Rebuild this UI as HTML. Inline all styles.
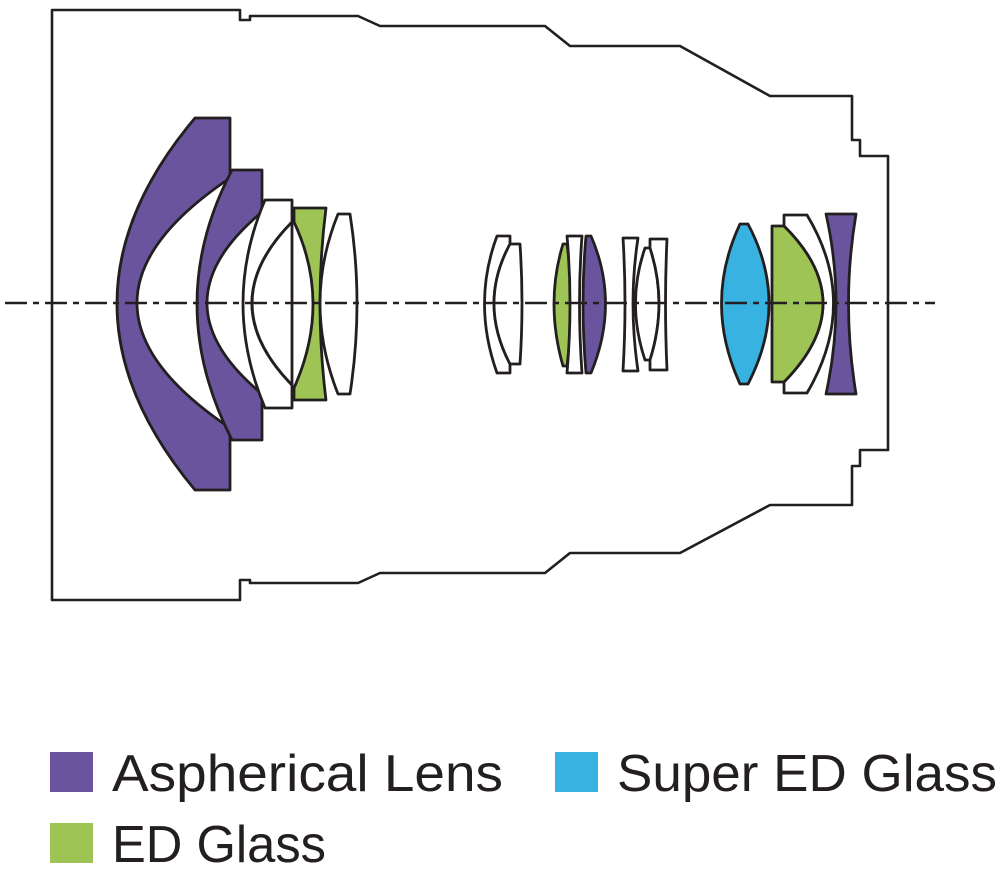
<!DOCTYPE html>
<html><head><meta charset="utf-8"><style>
html,body{margin:0;padding:0;background:#fff;}
svg{display:block;}
text{font-family:"Liberation Sans",sans-serif;fill:#231f20;}
</style></head><body>
<svg width="1000" height="872" viewBox="0 0 1000 872" xmlns="http://www.w3.org/2000/svg">
<g fill="none" stroke="#231f20" stroke-width="2.6" stroke-linejoin="round">
<path d="M52,10 H240 V20 H250 V16 H358 L380,26 H545 L570,46 H680 L770,96 H852 V140 H860 V156 H888 V450 H860 V466 H852 V505 H770 L680,553 H570 L545,573 H380 L358,583 H250 V580 H240 V600 H52 Z"/>
</g>
<g stroke="#231f20" stroke-width="2.8" stroke-linejoin="round">
<path fill="#6a549e" d="M195,118 H230 V178 Q44,303 230,428 V490 H195 Q39,303 195,118 Z"/>
<path fill="#6a549e" d="M232,170 H262 V212 Q152,303 262,394 V440 H232 Q162,303 232,170 Z"/>
<path fill="#fff" d="M265,200 H292 V222 Q212,303 292,385 V408 H265 Q221,303 265,200 Z"/>
<path fill="#fff" d="M292,222 Q212,303 292,385 Z"/>
<path fill="#9dc455" d="M294,208 H326 Q314,303 326,400 H294 V388 Q332,303 294,222 Z"/>
<path fill="#fff" d="M338,214 H350 Q364,303 350,394 H338 Q302,303 338,214 Z"/>
<path fill="#fff" d="M497,236 H510 V244 Q478,303 510,364 V373 H497 Q472,303 497,236 Z"/>
<path fill="#fff" d="M510,244 H520 Q524,303 520,364 H510 Q478,303 510,244 Z"/>
<path fill="#9dc455" d="M563,244 H567 Q575,303 567,366 H563 Q545,303 563,244 Z"/>
<path fill="#fff" d="M567,236 H582 Q577,303 582,373 H567 Q573,303 567,236 Z"/>
<path fill="#6a549e" d="M586,236 H591 Q620,303 591,373 H586 Q580,303 586,236 Z"/>
<path fill="#fff" d="M623,238 H638 Q628,303 638,371 H623 Q627,303 623,238 Z"/>
<path fill="#fff" d="M645,248 H650 Q668,303 650,360 H645 Q626,303 645,248 Z"/>
<path fill="#fff" d="M650,239 H667 Q664,303 667,370 H650 V360 Q668,303 650,248 Z"/>
<path fill="#38b2e0" d="M740,224 H748 Q790,303 748,384 H740 Q703,303 740,224 Z"/>
<path fill="#fff" d="M784,215 H807 Q860,303 807,393 H784 V382 Q862,303 784,226 Z"/>
<path fill="#9dc455" d="M772,226 H784 Q862,303 784,382 H772 Z"/>
<path fill="#6a549e" d="M826,214 H856 Q841,303 856,394 H826 Q846,303 826,214 Z"/>
</g>
<line x1="5" y1="303" x2="935" y2="303" stroke="#231f20" stroke-width="2.4" stroke-dasharray="22,6,6,6"/>
<rect x="50" y="752" width="43" height="40" fill="#6a549e"/>
<rect x="555" y="752" width="43" height="40" fill="#38b2e0"/>
<rect x="50" y="823" width="43" height="40" fill="#9dc455"/>
<text x="112" y="791" font-size="52" textLength="391" lengthAdjust="spacingAndGlyphs">Aspherical Lens</text>
<text x="617" y="791" font-size="52" textLength="380" lengthAdjust="spacingAndGlyphs">Super ED Glass</text>
<text x="112" y="862" font-size="52" textLength="214" lengthAdjust="spacingAndGlyphs">ED Glass</text>
</svg>
</body></html>
